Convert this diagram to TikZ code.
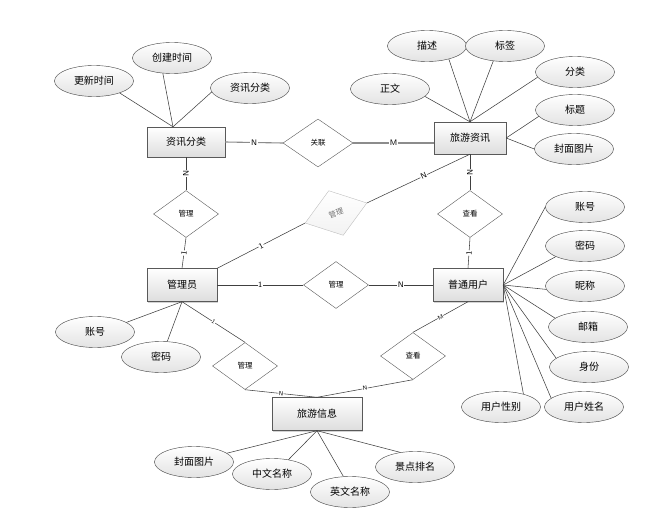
\documentclass[tikz,border=0pt]{standalone}
\usepackage{fontspec}
\newfontfamily\cjk{Noto Sans CJK SC}
\usetikzlibrary{shapes.geometric,shadows}

\begin{document}
\begin{tikzpicture}[x=1pt,y=-1pt,
  entity/.style={draw=black!65,top color=white,bottom color=black!13,
    minimum width=72pt,minimum height=32pt,inner sep=0pt,
    font=\cjk\fontsize{10}{12}\selectfont,
    drop shadow={shadow xshift=1.2pt,shadow yshift=-1.2pt,opacity=.35}},
  attr/.style={ellipse,draw=black!75,top color=white,bottom color=black!11,
    minimum width=79pt,minimum height=31pt,inner sep=0pt,
    font=\cjk\fontsize{10}{12}\selectfont},
  rel/.style={diamond,draw=black!65,fill=white,minimum width=65pt,
    minimum height=47pt,inner sep=0pt,font=\cjk\fontsize{7.5}{9}\selectfont},
  link/.style={draw=black!75,line width=.55pt},
  glink/.style={draw=black!45,line width=1.1pt},
  lbl/.style={fill=white,inner sep=.6pt,font=\sffamily\fontsize{8}{9}\selectfont},
  slbl/.style={fill=white,inner sep=.4pt,font=\sffamily\fontsize{6}{7}\selectfont}]
  \useasboundingbox (0,0) rectangle (646,516);

  \node[entity,minimum width=78pt,minimum height=30pt] (cat) at (186,142) {资讯分类};
  \node[entity] (news) at (470,138) {旅游资讯};
  \node[entity,minimum width=70pt,minimum height=33pt] (admin) at (182,285) {管理员};
  \node[entity,minimum width=70pt,minimum height=33pt] (user) at (468,285) {普通用户};
  \node[entity,minimum width=90pt,minimum height=33pt] (tinfo) at (317,414) {旅游信息};

  \node[rel,minimum width=70pt,minimum height=48pt] (link1) at (318,143) {关联};
  \node[rel] (mng1) at (186,214) {管理};
  \node[rel,draw=black!25,top color=white,bottom color=black!5,rotate=18,
    text=black!55] (mng2) at (336,213) {管理};
  \node[rel] (view1) at (470,214) {查看};
  \node[rel] (mng3) at (336,285) {管理};
  \node[rel] (mng4) at (245,366) {管理};
  \node[rel] (view2) at (413,356) {查看};

  \node[attr] (c1) at (94,81) {更新时间};
  \node[attr] (c2) at (172,58) {创建时间};
  \node[attr] (c3) at (250,88) {资讯分类};

  \node[attr] (n1) at (390,89) {正文};
  \node[attr] (n2) at (427,46) {描述};
  \node[attr] (n3) at (505,46) {标签};
  \node[attr] (n4) at (575,72) {分类};
  \node[attr] (n5) at (575,110) {标题};
  \node[attr] (n6) at (574,149) {封面图片};

  \node[attr] (a1) at (95,332) {账号};
  \node[attr] (a2) at (161,357) {密码};

  \node[attr] (u1) at (585,207) {账号};
  \node[attr] (u2) at (585,246) {密码};
  \node[attr] (u3) at (585,286) {昵称};
  \node[attr] (u4) at (588,327) {邮箱};
  \node[attr] (u5) at (589,367) {身份};
  \node[attr] (u6) at (584,407) {用户姓名};
  \node[attr] (u7) at (501,407) {用户性别};

  \node[attr] (t1) at (194,462) {封面图片};
  \node[attr] (t2) at (272,474) {中文名称};
  \node[attr] (t3) at (350,492) {英文名称};
  \node[attr] (t4) at (415,467) {景点排名};

  \coordinate (catTop) at ([xshift=-13pt]cat.north);
  \draw[link] (catTop) -- (c1.-25);
  \draw[link] (catTop) -- (c2.239);
  \draw[link] (catTop) -- (c3.186);

  \draw[link] (news.north) -- (n1.-12);
  \draw[link] (news.north) -- (n2.-31);
  \draw[link] (news.north) -- (n3.232);
  \draw[link] (news.north) -- (n4.188);
  \draw[link] (news.east) -- (n5.190);
  \draw[link] (news.east) -- (n6.west);

  \draw[link] (admin.south) -- (a1.17);
  \draw[link] (admin.south) -- (a2.68);

  \draw[link] (user.east) -- (u1.west);
  \draw[link] (user.east) -- (u2.200);
  \draw[link] (user.east) -- (u3.185);
  \draw[link] (user.east) -- (u4.165);
  \draw[link] (user.east) -- (u5.165);
  \draw[link] (user.east) -- (u6.165);
  \draw[link] (user.east) -- (u7.30);

  \draw[link] (tinfo.south) -- (t1.15);
  \draw[link] (tinfo.south) -- (t2.41);
  \draw[link] (tinfo.south) -- (t3.113);
  \draw[link] (tinfo.south) -- (t4.135);

  \draw[glink] (cat.east) -- (link1.west) node[lbl,midway] {N};
  \draw[glink] (link1.east) -- (link1.east -| news.west) node[lbl,midway] {M};

  \draw[link] (cat.south) -- (mng1.north) node[lbl,midway,sloped] {N};
  \draw[link] (mng1.south) -- (admin.north) node[lbl,midway,sloped] {1};
  \draw[link] (news.south) -- (view1.north) node[lbl,midway,sloped] {N};
  \draw[link] (view1.south) -- (user.north) node[lbl,midway,sloped] {1};

  \draw[link] (admin.north east) -- (mng2.west) node[lbl,pos=.5,sloped] {1};
  \draw[link] (mng2.east) -- (news.south) node[lbl,pos=.55,sloped] {N};

  \draw[link] (admin.east) -- (mng3.west) node[lbl,midway] {1};
  \draw[link] (mng3.east) -- (user.west) node[lbl,midway] {N};

  \draw[link] (admin.south) -- (mng4.north) node[slbl,midway,sloped] {1};
  \draw[link] (mng4.south) -- (tinfo.north) node[slbl,midway,sloped] {N};
  \draw[link] (user.south) -- (view2.north) node[slbl,midway,sloped] {M};
  \draw[link] (view2.south) -- (tinfo.north) node[slbl,midway,sloped] {N};
\end{tikzpicture}
\end{document}
